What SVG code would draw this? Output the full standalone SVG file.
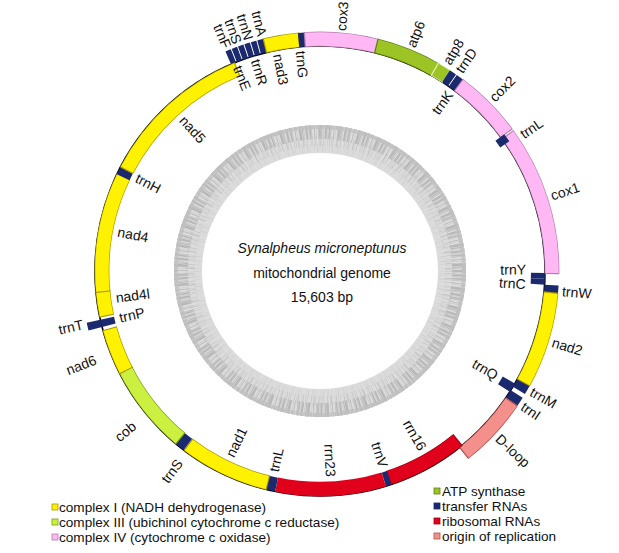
<svg xmlns="http://www.w3.org/2000/svg" width="619" height="553" viewBox="0 0 619 553">
<style>
text{font-family:"Liberation Sans",Arial,sans-serif;font-size:14px;fill:#111}
#legend text{font-size:13.6px}
.c{fill:none}
.o{stroke-width:14.8}
.of{stroke-width:13.4}
.t{stroke:#1b2a6e;stroke-width:14}
.b1{stroke:#a89a00}.f1{stroke:#fff200}
.b3{stroke:#7aa010}.f3{stroke:#ccf040}
.b4{stroke:#b080b0}.f4{stroke:#ffb8f4}
.ba{stroke:#5f8010}.fa{stroke:#9cc424}
.br{stroke:#9a0010}.fr{stroke:#e0001c}
.bd{stroke:#b05050}.fd{stroke:#f4908c}
.s{text-anchor:start}.e{text-anchor:end}
</style>
<rect width="619" height="553" fill="#fff"/>
<g id="gc-ring" fill="none">
<circle cx="320" cy="271" r="132" stroke="#dcdcdc" stroke-width="28"/>
<circle cx="320" cy="271" r="139" stroke="#b8b8b8" stroke-width="14" stroke-dasharray="1 0.7 0.4 1.3 2.1 0.5 0.3 0.9 1.6 0.4 0.6 2.3 0.8 1.1 0.3 1.9 2.6 0.5"/>
<circle cx="320" cy="271" r="130" stroke="#c4c4c4" stroke-width="10" stroke-dasharray="0.5 1.7 0.8 0.9 0.3 2.9 1.1 0.6 0.4 1.9 0.7 3.3 0.5 1.2"/>
<circle cx="320" cy="271" r="123" stroke="#cfcfcf" stroke-width="8" stroke-dasharray="0.4 2.3 0.7 1.1 0.3 3.1 0.9 1.7 0.5 4.1"/>
<circle cx="320" cy="271" r="144" stroke="#c0c0c0" stroke-width="4" stroke-dasharray="2 0.5 1 0.4 3 0.6 1.4 0.3"/>
</g>
<g id="center-text" text-anchor="middle">
<text x="322" y="253" font-style="italic" font-size="14.5">Synalpheus microneptunus</text>
<text x="322" y="278" font-size="14.5">mitochondrial genome</text>
<text x="322" y="302" font-size="14.5">15,603 bp</text>
</g>
<g id="connectors">
<circle cx="320" cy="271" r="225" fill="none" stroke="#000" stroke-width="1.6"/>
</g>
<g id="genes" class="c">
<g id="trnF"><circle class="c t" cx="320" cy="271" r="232" pathLength="360" stroke-dasharray="1.4 360" transform="rotate(-113.3 320 271)"/></g>
<g id="trnE"><circle class="c t" cx="320" cy="271" r="232" pathLength="360" stroke-dasharray="1.4 360" transform="rotate(-111.68 320 271)"/></g>
<g id="trnS1"><circle class="c t" cx="320" cy="271" r="232" pathLength="360" stroke-dasharray="1.4 360" transform="rotate(-110.07 320 271)"/></g>
<g id="trnN"><circle class="c t" cx="320" cy="271" r="232" pathLength="360" stroke-dasharray="1.4 360" transform="rotate(-108.45 320 271)"/></g>
<g id="trnA"><circle class="c t" cx="320" cy="271" r="232" pathLength="360" stroke-dasharray="1.4 360" transform="rotate(-106.83 320 271)"/></g>
<g id="trnR"><circle class="c t" cx="320" cy="271" r="232" pathLength="360" stroke-dasharray="1.62 360" transform="rotate(-105.22 320 271)"/></g>
<g id="nad3"><circle class="c o b1" cx="320" cy="271" r="232" pathLength="360" stroke-dasharray="8.9 360" transform="rotate(-103.9 320 271)"/><circle class="c of f1" cx="320" cy="271" r="232" pathLength="360" stroke-dasharray="8.3 360" transform="rotate(-103.6 320 271)"/></g>
<g id="trnG"><circle class="c t" cx="320" cy="271" r="232" pathLength="360" stroke-dasharray="1.7 360" transform="rotate(-95.3 320 271)"/></g>
<g id="cox3"><circle class="c o b4" cx="320" cy="271" r="232" pathLength="360" stroke-dasharray="18.4 360" transform="rotate(-93.9 320 271)"/><circle class="c of f4" cx="320" cy="271" r="232" pathLength="360" stroke-dasharray="17.8 360" transform="rotate(-93.6 320 271)"/></g>
<g id="atp6"><circle class="c o ba" cx="320" cy="271" r="232" pathLength="360" stroke-dasharray="16.2 360" transform="rotate(-76.1 320 271)"/><circle class="c of fa" cx="320" cy="271" r="232" pathLength="360" stroke-dasharray="15.6 360" transform="rotate(-75.8 320 271)"/></g>
<g id="atp8"><circle class="c o ba" cx="320" cy="271" r="232" pathLength="360" stroke-dasharray="3.7 360" transform="rotate(-60.5 320 271)" style="stroke:#e8f0c0"/><circle class="c of fa" cx="320" cy="271" r="232" pathLength="360" stroke-dasharray="3.1 360" transform="rotate(-60.2 320 271)"/></g>
<g id="trnD"><circle class="c t" cx="320" cy="271" r="232" pathLength="360" stroke-dasharray="1.8 360" transform="rotate(-57.1 320 271)"/></g>
<g id="trnK"><circle class="c t" cx="320" cy="271" r="232" pathLength="360" stroke-dasharray="2 360" transform="rotate(-55.1 320 271)"/></g>
<g id="cox2"><circle class="c o b4" cx="320" cy="271" r="232" pathLength="360" stroke-dasharray="17.1 360" transform="rotate(-53.4 320 271)"/><circle class="c of f4" cx="320" cy="271" r="232" pathLength="360" stroke-dasharray="16.5 360" transform="rotate(-53.1 320 271)"/></g>
<g id="cox1"><circle class="c o b4" cx="320" cy="271" r="232" pathLength="360" stroke-dasharray="36.9 360" transform="rotate(-36.1 320 271)"/><circle class="c of f4" cx="320" cy="271" r="232" pathLength="360" stroke-dasharray="36.3 360" transform="rotate(-35.8 320 271)"/></g>
<g id="trnL2"><circle class="c t" cx="320" cy="271" r="224" pathLength="360" stroke-dasharray="2.2 360" transform="rotate(-36.6 320 271)" style="stroke-width:11"/></g>
<g id="trnY"><circle class="c t" cx="320" cy="271" r="218" pathLength="360" stroke-dasharray="1.5 360" transform="rotate(0.5 320 271)"/></g>
<g id="trnC"><circle class="c t" cx="320" cy="271" r="218" pathLength="360" stroke-dasharray="1.5 360" transform="rotate(2 320 271)"/></g>
<g id="trnW"><circle class="c t" cx="320" cy="271" r="232" pathLength="360" stroke-dasharray="2 360" transform="rotate(3.5 320 271)"/></g>
<g id="nad2"><circle class="c o b1" cx="320" cy="271" r="232" pathLength="360" stroke-dasharray="23.7 360" transform="rotate(5.2 320 271)"/><circle class="c of f1" cx="320" cy="271" r="232" pathLength="360" stroke-dasharray="23.1 360" transform="rotate(5.5 320 271)"/></g>
<g id="trnM"><circle class="c t" cx="320" cy="271" r="232" pathLength="360" stroke-dasharray="2.2 360" transform="rotate(28.8 320 271)"/></g>
<g id="trnQ"><circle class="c t" cx="320" cy="271" r="218" pathLength="360" stroke-dasharray="2.5 360" transform="rotate(30 320 271)"/></g>
<g id="trnI"><circle class="c t" cx="320" cy="271" r="232" pathLength="360" stroke-dasharray="2.3 360" transform="rotate(32 320 271)"/></g>
<g id="D-loop"><circle class="c o bd" cx="320" cy="271" r="232" pathLength="360" stroke-dasharray="17.6 360" transform="rotate(34.2 320 271)"/><circle class="c of fd" cx="320" cy="271" r="232" pathLength="360" stroke-dasharray="17 360" transform="rotate(34.5 320 271)"/></g>
<g id="rrn16"><circle class="c o br" cx="320" cy="271" r="218" pathLength="360" stroke-dasharray="21.1 360" transform="rotate(50.7 320 271)"/><circle class="c of fr" cx="320" cy="271" r="218" pathLength="360" stroke-dasharray="20.5 360" transform="rotate(51 320 271)"/></g>
<g id="trnV"><circle class="c t" cx="320" cy="271" r="218" pathLength="360" stroke-dasharray="1.5 360" transform="rotate(71.5 320 271)"/></g>
<g id="rrn23"><circle class="c of fr" cx="320" cy="271" r="218" pathLength="360" stroke-dasharray="28.5 360" transform="rotate(73 320 271)" style="stroke-width:14.6"/></g>
<g id="trnL1"><circle class="c t" cx="320" cy="271" r="218" pathLength="360" stroke-dasharray="2.5 360" transform="rotate(101.5 320 271)"/></g>
<g id="nad1"><circle class="c o b1" cx="320" cy="271" r="218" pathLength="360" stroke-dasharray="23.6 360" transform="rotate(103.7 320 271)"/><circle class="c of f1" cx="320" cy="271" r="218" pathLength="360" stroke-dasharray="23 360" transform="rotate(104 320 271)"/></g>
<g id="trnS2"><circle class="c t" cx="320" cy="271" r="218" pathLength="360" stroke-dasharray="2.7 360" transform="rotate(127.3 320 271)"/></g>
<g id="cob"><circle class="c o b3" cx="320" cy="271" r="218" pathLength="360" stroke-dasharray="23.6 360" transform="rotate(129.7 320 271)"/><circle class="c of f3" cx="320" cy="271" r="218" pathLength="360" stroke-dasharray="23 360" transform="rotate(130 320 271)"/></g>
<g id="nad6"><circle class="c o b1" cx="320" cy="271" r="218" pathLength="360" stroke-dasharray="12.1 360" transform="rotate(152.7 320 271)"/><circle class="c of f1" cx="320" cy="271" r="218" pathLength="360" stroke-dasharray="11.5 360" transform="rotate(153 320 271)"/></g>
<g id="trnT"><circle class="c t" cx="320" cy="271" r="232" pathLength="360" stroke-dasharray="1.9 360" transform="rotate(165.6 320 271)"/></g>
<g id="trnP"><circle class="c t" cx="320" cy="271" r="218" pathLength="360" stroke-dasharray="1.9 360" transform="rotate(165.6 320 271)"/></g>
<g id="nad4l"><circle class="c o b1" cx="320" cy="271" r="218" pathLength="360" stroke-dasharray="7 360" transform="rotate(168 320 271)"/><circle class="c of f1" cx="320" cy="271" r="218" pathLength="360" stroke-dasharray="6.4 360" transform="rotate(168.3 320 271)"/></g>
<g id="nad4"><circle class="c o b1" cx="320" cy="271" r="218" pathLength="360" stroke-dasharray="31.4 360" transform="rotate(174.4 320 271)"/><circle class="c of f1" cx="320" cy="271" r="218" pathLength="360" stroke-dasharray="30.8 360" transform="rotate(174.7 320 271)"/></g>
<g id="trnH"><circle class="c t" cx="320" cy="271" r="218" pathLength="360" stroke-dasharray="2 360" transform="rotate(205.5 320 271)"/></g>
<g id="nad5"><circle class="c o b1" cx="320" cy="271" r="218" pathLength="360" stroke-dasharray="40.4 360" transform="rotate(207.4 320 271)"/><circle class="c of f1" cx="320" cy="271" r="218" pathLength="360" stroke-dasharray="39.8 360" transform="rotate(207.7 320 271)"/></g>
</g>
<g id="labels">
<g transform="rotate(5 320 271)"><text class="s" x="320" y="30" dy="0.35em" transform="rotate(-90 320 30)">cox3</text></g>
<g transform="rotate(22 320 271)"><text class="s" x="320" y="29" dy="0.35em" transform="rotate(-90 320 29)">atp6</text></g>
<g transform="rotate(31.3 320 271)"><text class="s" x="320" y="28" dy="0.35em" transform="rotate(-90 320 28)">atp8</text></g>
<g transform="rotate(34.8 320 271)"><text class="s" x="320" y="28" dy="0.35em" transform="rotate(-90 320 28)">trnD</text></g>
<g transform="rotate(45 320 271)"><text class="s" x="320" y="28" dy="0.35em" transform="rotate(-90 320 28)">cox2</text></g>
<g transform="rotate(56 320 271)"><text class="s" x="320" y="28" dy="0.35em" transform="rotate(-90 320 28)">trnL</text></g>
<g transform="rotate(72 320 271)"><text class="s" x="320" y="28" dy="0.35em" transform="rotate(-90 320 28)">cox1</text></g>
<g transform="rotate(94.8 320 271)"><text class="s" x="320" y="28" dy="0.35em" transform="rotate(-90 320 28)">trnW</text></g>
<g transform="rotate(107 320 271)"><text class="s" x="320" y="28" dy="0.35em" transform="rotate(-90 320 28)">nad2</text></g>
<g transform="rotate(119.6 320 271)"><text class="s" x="320" y="28" dy="0.35em" transform="rotate(-90 320 28)">trnM</text></g>
<g transform="rotate(123.6 320 271)"><text class="s" x="320" y="28" dy="0.35em" transform="rotate(-90 320 28)">trnI</text></g>
<g transform="rotate(133 320 271)"><text class="s" x="320" y="28" dy="0.35em" transform="rotate(-90 320 28)">D-loop</text></g>
<g transform="rotate(36 320 271)"><text class="e" x="320" y="50" dy="0.35em" transform="rotate(-90 320 50)">trnK</text></g>
<g transform="rotate(89.6 320 271)"><text class="e" x="320" y="65" dy="0.35em" transform="rotate(-90 320 65)">trnY</text></g>
<g transform="rotate(93.7 320 271)"><text class="e" x="320" y="65" dy="0.35em" transform="rotate(-90 320 65)">trnC</text></g>
<g transform="rotate(120.8 320 271)"><text class="e" x="320" y="65" dy="0.35em" transform="rotate(-90 320 65)">trnQ</text></g>
<g transform="rotate(150 320 271)"><text class="e" x="320" y="65" dy="0.35em" transform="rotate(-90 320 65)">rrn16</text></g>
<g transform="rotate(162 320 271)"><text class="e" x="320" y="65" dy="0.35em" transform="rotate(-90 320 65)">trnV</text></g>
<g transform="rotate(177 320 271)"><text class="e" x="320" y="65" dy="0.35em" transform="rotate(-90 320 65)">rrn23</text></g>
<g transform="rotate(193 320 271)"><text class="s" x="320" y="65" dy="0.35em" transform="rotate(90 320 65)">trnL</text></g>
<g transform="rotate(206 320 271)"><text class="s" x="320" y="65" dy="0.35em" transform="rotate(90 320 65)">nad1</text></g>
<g transform="rotate(256.8 320 271)"><text class="s" x="320" y="65" dy="0.35em" transform="rotate(90 320 65)">trnP</text></g>
<g transform="rotate(262.5 320 271)"><text class="s" x="320" y="65" dy="0.35em" transform="rotate(90 320 65)">nad4l</text></g>
<g transform="rotate(281 320 271)"><text class="s" x="320" y="65" dy="0.35em" transform="rotate(90 320 65)">nad4</text></g>
<g transform="rotate(297 320 271)"><text class="s" x="320" y="65" dy="0.35em" transform="rotate(90 320 65)">trnH</text></g>
<g transform="rotate(318 320 271)"><text class="s" x="320" y="65" dy="0.35em" transform="rotate(90 320 65)">nad5</text></g>
<g transform="rotate(-22 320 271)"><text class="s" x="320" y="50" dy="0.35em" transform="rotate(90 320 50)">trnE</text></g>
<g transform="rotate(-17 320 271)"><text class="s" x="320" y="50" dy="0.35em" transform="rotate(90 320 50)">trnR</text></g>
<g transform="rotate(-11 320 271)"><text class="s" x="320" y="50" dy="0.35em" transform="rotate(90 320 50)">nad3</text></g>
<g transform="rotate(-5 320 271)"><text class="s" x="320" y="50" dy="0.35em" transform="rotate(90 320 50)">trnG</text></g>
<g transform="rotate(-22.6 320 271)"><text class="e" x="320" y="29" dy="0.35em" transform="rotate(90 320 29)">trnF</text></g>
<g transform="rotate(-19.9 320 271)"><text class="e" x="320" y="29" dy="0.35em" transform="rotate(90 320 29)">trnS</text></g>
<g transform="rotate(-17.1 320 271)"><text class="e" x="320" y="29" dy="0.35em" transform="rotate(90 320 29)">trnN</text></g>
<g transform="rotate(-13.8 320 271)"><text class="e" x="320" y="29" dy="0.35em" transform="rotate(90 320 29)">trnA</text></g>
<g transform="rotate(216.5 320 271)"><text class="e" x="320" y="35" dy="0.35em" transform="rotate(90 320 35)">trnS</text></g>
<g transform="rotate(230.5 320 271)"><text class="e" x="320" y="30" dy="0.35em" transform="rotate(90 320 30)">cob</text></g>
<g transform="rotate(248.5 320 271)"><text class="e" x="320" y="30" dy="0.35em" transform="rotate(90 320 30)">nad6</text></g>
<g transform="rotate(257.3 320 271)"><text class="e" x="320" y="28" dy="0.35em" transform="rotate(90 320 28)">trnT</text></g>
</g>
<g id="legend" stroke-width="0.8">
<rect x="52" y="504" width="6" height="6" fill="#fff200" stroke="#a89a00"/>
<text x="59" y="512">complex I (NADH dehydrogenase)</text>
<rect x="52" y="519" width="6" height="6" fill="#ccf040" stroke="#7aa010"/>
<text x="59" y="527">complex III (ubichinol cytochrome c reductase)</text>
<rect x="52" y="534" width="6" height="6" fill="#ffb8f4" stroke="#b080b0"/>
<text x="59" y="542">complex IV (cytochrome c oxidase)</text>
<rect x="434" y="488" width="6" height="6" fill="#9cc424" stroke="#5f8010"/>
<text x="442" y="496">ATP synthase</text>
<rect x="434" y="503" width="6" height="6" fill="#1b2a6e" stroke="#1b2a6e"/>
<text x="442" y="511">transfer RNAs</text>
<rect x="434" y="518" width="6" height="6" fill="#e0001c" stroke="#9a0010"/>
<text x="442" y="526">ribosomal RNAs</text>
<rect x="434" y="533" width="6" height="6" fill="#f4908c" stroke="#b05050"/>
<text x="442" y="541">origin of replication</text>
</g>
</svg>
